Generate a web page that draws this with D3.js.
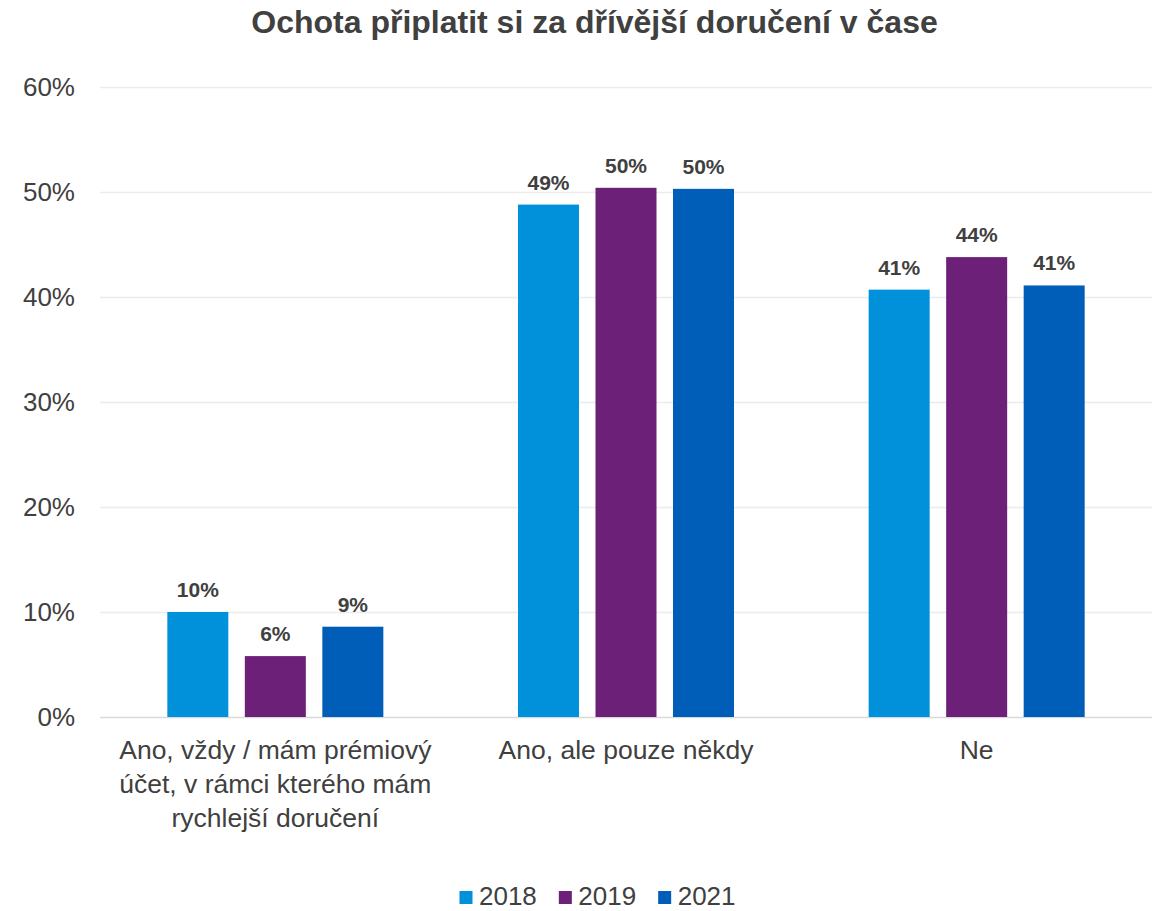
<!DOCTYPE html>
<html>
<head>
<meta charset="utf-8">
<script src="https://cdn.jsdelivr.net/npm/d3@7"></script>
<style>
  html, body { margin: 0; padding: 0; background: #ffffff; }
  svg { display: block; font-family: "Liberation Sans", Arial, sans-serif; }
</style>
</head>
<body>
<svg id="chart" width="1158" height="911"></svg>
<script>
// Survey answers (shares of respondents), one array per year
const categories = [
  ["Ano, vždy / mám prémiový", "účet, v rámci kterého mám", "rychlejší doručení"],
  ["Ano, ale pouze někdy"],
  ["Ne"]
];
const seriesNames = ["2018", "2019", "2021"];
const values2018 = [0.100, 0.488, 0.407];
const values2019 = [0.058, 0.504, 0.438];
const values2021 = [0.086, 0.503, 0.411];
const yTicks = [0, 0.1, 0.2, 0.3, 0.4, 0.5, 0.6];
const colors = ["#0091DA", "#6D2077", "#005EB8"];
const title = "Ochota připlatit si za dřívější doručení v čase";

const seriesValues = [values2018, values2019, values2021];
const rows = categories.map((c, i) => ({
  key: i,
  lines: c,
  vals: seriesNames.map((s, j) => ({ series: s, value: seriesValues[j][i], color: colors[j] }))
}));

const svg = d3.select("#chart");
const textColor = "#404040";
const plotLeft = 100, plotRight = 1152, plotTop = 87, plotBottom = 717;

const y = d3.scaleLinear().domain([0, 0.6]).range([plotBottom, plotTop]);
const x0 = d3.scaleBand().domain(rows.map(r => r.key)).range([plotLeft, plotRight])
  .paddingInner(0.384).paddingOuter(0.192);
const x1 = d3.scaleBand().domain(seriesNames).range([0, x0.bandwidth()])
  .paddingInner(0.213).paddingOuter(0);

// Title
svg.append("text")
  .attr("x", 594.5).attr("y", 33)
  .attr("text-anchor", "middle")
  .attr("font-size", 32).attr("font-weight", "bold")
  .attr("fill", textColor)
  .text(title);

// Gridlines and y-axis labels
const yAxis = d3.axisLeft(y).tickValues(yTicks)
  .tickSize(-(plotRight - plotLeft)).tickPadding(25)
  .tickFormat(d3.format(".0%"));
const gy = svg.append("g").attr("transform", `translate(${plotLeft},0)`).call(yAxis);
gy.select(".domain").remove();
gy.selectAll(".tick line").attr("stroke", d => d === 0 ? "#d9d9d9" : "#ececec").attr("stroke-width", 1.5);
gy.selectAll(".tick text")
  .attr("font-size", 26).attr("fill", textColor)
  .attr("font-family", "'Liberation Sans', Arial, sans-serif");

// Bars
const groups = svg.append("g").selectAll("g").data(rows).join("g")
  .attr("transform", d => `translate(${x0(d.key)},0)`);

groups.selectAll("rect").data(d => d.vals).join("rect")
  .attr("x", d => x1(d.series))
  .attr("width", x1.bandwidth())
  .attr("y", d => y(d.value))
  .attr("height", d => y(0) - y(d.value))
  .attr("fill", d => d.color);

// Value labels
groups.selectAll("text.val").data(d => d.vals).join("text")
  .attr("class", "val")
  .attr("x", d => x1(d.series) + x1.bandwidth() / 2)
  .attr("y", d => y(d.value) - 15)
  .attr("text-anchor", "middle")
  .attr("font-size", 21).attr("font-weight", "bold")
  .attr("fill", textColor)
  .text(d => d3.format(".0%")(d.value));

// Category labels
const catLabels = svg.append("g").selectAll("text").data(rows).join("text")
  .attr("x", d => x0(d.key) + x0.bandwidth() / 2)
  .attr("y", 759)
  .attr("text-anchor", "middle")
  .attr("font-size", 26.5)
  .attr("fill", textColor);
catLabels.selectAll("tspan").data(d => d.lines).join("tspan")
  .attr("x", function() { return d3.select(this.parentNode).attr("x"); })
  .attr("dy", (d, i) => i === 0 ? 0 : 34)
  .text(d => d);

// Legend
const legend = svg.append("g");
const items = legend.selectAll("g").data(seriesNames).join("g");
items.append("rect").attr("width", 13).attr("height", 13).attr("y", 891)
  .attr("fill", (d, i) => colors[i]);
items.append("text").attr("x", 19.5).attr("y", 905)
  .attr("font-size", 26).attr("fill", textColor).text(d => d);
const widths = [];
items.each(function() { widths.push(this.getBBox().width); });
const gap = 22;
const total = d3.sum(widths) + gap * (widths.length - 1);
let cursor = 597.5 - total / 2;
items.attr("transform", (d, i) => {
  const t = `translate(${cursor},0)`;
  cursor += widths[i] + gap;
  return t;
});
</script>
</body>
</html>
